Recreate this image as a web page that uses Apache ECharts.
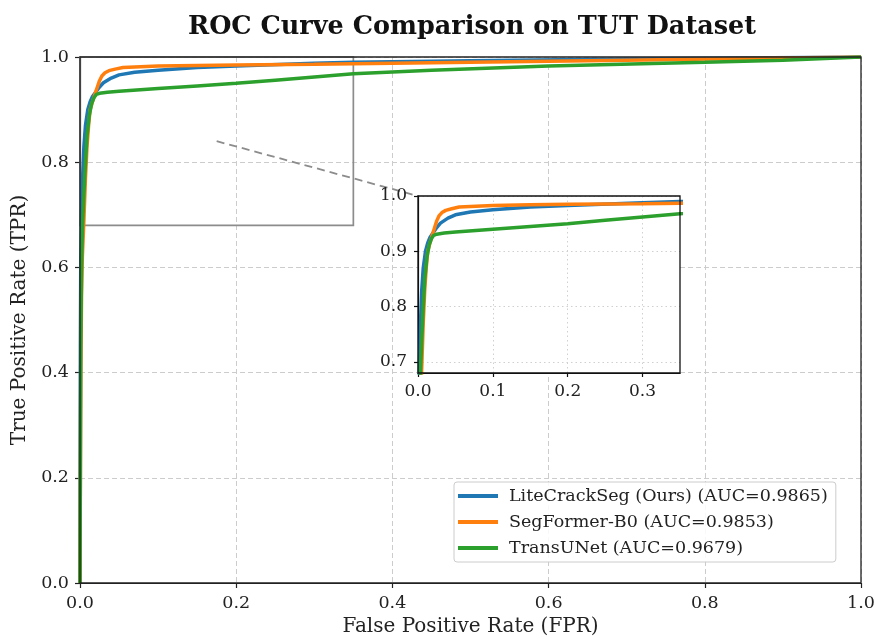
<!DOCTYPE html>
<html>
<head>
<meta charset="utf-8">
<script src="https://cdn.jsdelivr.net/npm/echarts@6/dist/echarts.min.js"></script>
<style>
  html, body { margin: 0; padding: 0; background: #fff; }
  #chart { width: 875px; height: 639px; }
</style>
</head>
<body>
<div id="chart"></div>
<script>
// ROC data
const liteFpr = [0, 0.0005, 0.001, 0.002, 0.003, 0.005, 0.007, 0.01, 0.013, 0.016, 0.02, 0.025, 0.03, 0.04, 0.05, 0.07, 0.1, 0.15, 0.2, 0.3, 0.35, 0.5, 0.7, 0.85, 1.0];
const liteTpr = [0, 0.45, 0.62, 0.70, 0.76, 0.83, 0.87, 0.90, 0.915, 0.925, 0.933, 0.943, 0.951, 0.96, 0.966, 0.971, 0.975, 0.98, 0.983, 0.988, 0.99, 0.993, 0.996, 0.998, 1.0];

const segFpr = [0, 0.001, 0.002, 0.003, 0.005, 0.007, 0.009, 0.011, 0.013, 0.016, 0.019, 0.022, 0.025, 0.028, 0.032, 0.037, 0.045, 0.055, 0.07, 0.1, 0.15, 0.2, 0.3, 0.35, 0.5, 0.7, 0.85, 1.0];
const segTpr = [0, 0.40, 0.55, 0.62, 0.69, 0.77, 0.83, 0.87, 0.90, 0.915, 0.929, 0.942, 0.955, 0.964, 0.970, 0.974, 0.977, 0.980, 0.981, 0.983, 0.984, 0.985, 0.986, 0.987, 0.99, 0.994, 0.997, 1.0];

const transFpr = [0, 0.001, 0.002, 0.003, 0.005, 0.007, 0.009, 0.012, 0.015, 0.018, 0.021, 0.025, 0.035, 0.05, 0.1, 0.15, 0.2, 0.25, 0.3, 0.35, 0.45, 0.6, 0.8, 0.9, 1.0];
const transTpr = [0, 0.45, 0.60, 0.67, 0.74, 0.80, 0.85, 0.89, 0.912, 0.923, 0.929, 0.931, 0.933, 0.935, 0.94, 0.945, 0.95, 0.956, 0.962, 0.968, 0.975, 0.983, 0.99, 0.994, 1.0];

const modelNames = [
  "LiteCrackSeg (Ours) (AUC=0.9865)",
  "SegFormer-B0 (AUC=0.9853)",
  "TransUNet (AUC=0.9679)"
];
const modelColors = ["#1f77b4", "#ff7f0e", "#2ca02c"];

const insetXTicks = [0, 0.1, 0.2, 0.3];
const insetYTicks = [0.7, 0.8, 0.9, 1.0];
const insetXRange = [0, 0.35];
const insetYRange = [0.68, 1.0];

const serif = "DejaVu Serif";
const zip = (xs, ys) => xs.map((x, i) => [x, ys[i]]);
const curves = [zip(liteFpr, liteTpr), zip(segFpr, segTpr), zip(transFpr, transTpr)];

const chart = echarts.init(document.getElementById("chart"), null, { renderer: "canvas" });

const mainAxisCommon = {
  type: "value",
  min: 0,
  max: 1,
  interval: 0.2,
  axisLine: { show: true, onZero: false, lineStyle: { color: "#222", width: 1.2 } },
  axisTick: { show: true, length: 5, lineStyle: { color: "#222", width: 1.2 } },
  axisLabel: { color: "#222", fontFamily: serif, fontSize: 17.5, margin: 11, formatter: (v) => v.toFixed(1) },
  splitLine: { show: true, lineStyle: { color: "#cccccc", type: [5, 3], width: 1 } },
  nameLocation: "middle",
  nameTextStyle: { color: "#222", fontFamily: serif, fontSize: 20 }
};

const insetAxisCommon = {
  type: "value",
  axisLine: { show: true, onZero: false, lineStyle: { color: "#111", width: 1.2 } },
  axisTick: { show: true, length: 4, lineStyle: { color: "#111", width: 1.2 } },
  axisLabel: { color: "#222", fontFamily: serif, fontSize: 17, margin: 10, formatter: (v) => v.toFixed(1) },
  splitLine: { show: true, lineStyle: { color: "#d0d0d0", type: [1.5, 3], width: 1 } },
  z: 12
};

const series = [];
curves.forEach((data, i) => {
  series.push({
    name: modelNames[i], type: "line", xAxisIndex: 0, yAxisIndex: 0,
    data, showSymbol: false, symbol: "none", smooth: false,
    lineStyle: { color: modelColors[i], width: 3.5 }, itemStyle: { color: modelColors[i] },
    z: 3 + i
  });
});
curves.forEach((data, i) => {
  series.push({
    name: modelNames[i], type: "line", xAxisIndex: 1, yAxisIndex: 1,
    data, showSymbol: false, symbol: "none", smooth: false, clip: true,
    lineStyle: { color: modelColors[i], width: 3.5 }, itemStyle: { color: modelColors[i] },
    z: 13 + i
  });
});

chart.setOption({
  backgroundColor: "#fff",
  animation: false,
  title: {
    text: "ROC Curve Comparison on TUT Dataset",
    left: 467,
    textAlign: "center",
    top: 9,
    textStyle: { fontFamily: serif, fontWeight: "bold", fontSize: 25.5, color: "#111" }
  },
  grid: [
    { left: 80, right: 14, top: 57, bottom: 56, outerBoundsMode: "none" },
    { left: 418, top: 196, width: 262, height: 177, show: true, borderWidth: 0, backgroundColor: "#fff", z: 10, outerBoundsMode: "none" }
  ],
  xAxis: [
    { ...mainAxisCommon, gridIndex: 0, name: "False Positive Rate (FPR)", nameGap: 34 },
    {
      ...insetAxisCommon, gridIndex: 1, min: insetXRange[0], max: insetXRange[1],
      axisTick: { ...insetAxisCommon.axisTick, customValues: insetXTicks },
      axisLabel: { ...insetAxisCommon.axisLabel, customValues: insetXTicks }
    }
  ],
  yAxis: [
    { ...mainAxisCommon, gridIndex: 0, name: "True Positive Rate (TPR)", nameGap: 48 },
    {
      ...insetAxisCommon, gridIndex: 1, min: insetYRange[0], max: insetYRange[1],
      axisTick: { ...insetAxisCommon.axisTick, customValues: insetYTicks },
      axisLabel: { ...insetAxisCommon.axisLabel, margin: 11, customValues: insetYTicks }
    }
  ],
  legend: {
    data: modelNames,
    orient: "vertical",
    left: 454,
    top: 482,
    width: 383,
    padding: [5, 8, 5, 4],
    itemGap: 8,
    itemWidth: 40,
    itemHeight: 4,
    icon: "rect",
    backgroundColor: "rgba(255,255,255,0.85)",
    borderColor: "#cccccc",
    borderWidth: 1,
    borderRadius: 3,
    textStyle: { fontFamily: serif, fontSize: 17.5, color: "#222", padding: [0, 0, 0, 6] },
    selectedMode: false,
    z: 20
  },
  series
});

// frames, zoom box on the main axes and dashed connector to the inset corner
const mainTL = chart.convertToPixel({ gridIndex: 0 }, [0, 1]);
const mainBR = chart.convertToPixel({ gridIndex: 0 }, [1, 0]);
const insetTL = chart.convertToPixel({ xAxisIndex: 1, yAxisIndex: 1 }, [insetXRange[0], insetYRange[1]]);
const insetBR = chart.convertToPixel({ xAxisIndex: 1, yAxisIndex: 1 }, [insetXRange[1], insetYRange[0]]);
const boxA = chart.convertToPixel({ gridIndex: 0 }, [insetXRange[0], insetYRange[1]]);
const boxB = chart.convertToPixel({ gridIndex: 0 }, [insetXRange[1], insetYRange[0]]);
const boxCenter = chart.convertToPixel({ gridIndex: 0 }, [
  (insetXRange[0] + insetXRange[1]) / 2,
  (insetYRange[0] + insetYRange[1]) / 2
]);

const frame = (a, b, z, color) => ({
  type: "rect", z, silent: true,
  shape: { x: a[0], y: a[1], width: b[0] - a[0], height: b[1] - a[1] },
  style: { fill: null, stroke: color, lineWidth: 1.3 }
});

chart.setOption({
  graphic: [
    frame(mainTL, mainBR, 8, "#222"),
    {
      type: "rect", z: 2, silent: true,
      shape: { x: boxA[0], y: boxA[1], width: boxB[0] - boxA[0], height: boxB[1] - boxA[1] },
      style: { fill: null, stroke: "#8c8c8c", lineWidth: 1.7 }
    },
    {
      type: "line", z: 9, silent: true,
      shape: { x1: boxCenter[0], y1: boxCenter[1], x2: insetTL[0], y2: insetTL[1] },
      style: { stroke: "#8c8c8c", lineWidth: 1.8, lineDash: [8, 5] }
    },
    frame(insetTL, insetBR, 25, "#111")
  ]
});
</script>
</body>
</html>
